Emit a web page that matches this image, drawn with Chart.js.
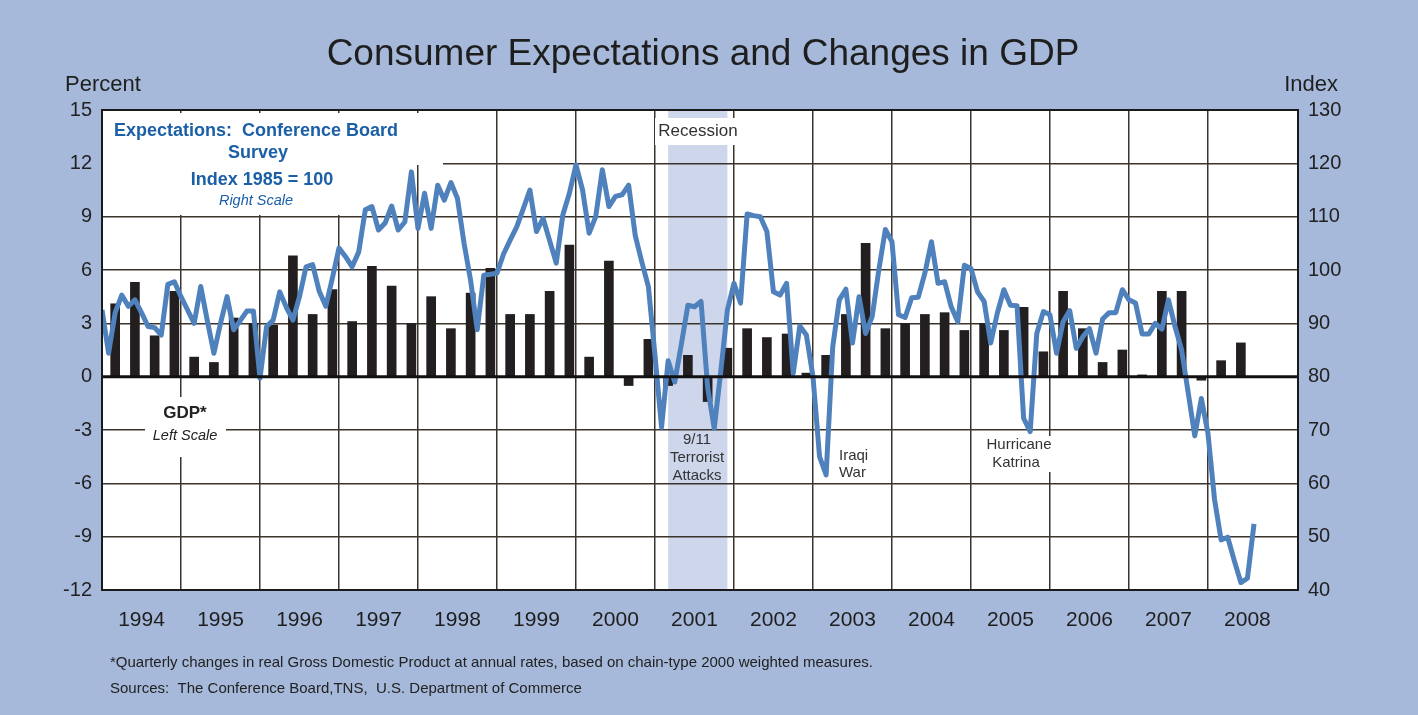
<!DOCTYPE html>
<html>
<head>
<meta charset="utf-8">
<script src="https://cdn.jsdelivr.net/npm/chart.js@4.4.1/dist/chart.umd.min.js"></script>
<style>
  html, body { margin: 0; padding: 0; background: #a6b9da; }
  #wrap { width: 1418px; height: 715px; position: relative; }
  canvas { display: block; }
</style>
</head>
<body>
<div id="wrap"><canvas id="c" width="1418" height="715"></canvas></div>
<script>
// ---------------- DATA ----------------
const startYear = 1994;
const yearLabels = ['1994','1995','1996','1997','1998','1999','2000','2001','2002','2003','2004','2005','2006','2007','2008'];

// Real GDP, quarterly % change at annual rates (1994Q1 .. 2008Q2)
const gdpQuarterly = [
  4.1, 5.3, 2.3, 4.8,   // 1994
  1.1, 0.8, 3.3, 3.0,   // 1995
  2.9, 6.8, 3.5, 4.9,   // 1996
  3.1, 6.2, 5.1, 3.0,   // 1997
  4.5, 2.7, 4.7, 6.1,   // 1998
  3.5, 3.5, 4.8, 7.4,   // 1999
  1.1, 6.5, -0.5, 2.1,  // 2000
  -0.5, 1.2, -1.4, 1.6, // 2001
  2.7, 2.2, 2.4, 0.2,   // 2002
  1.2, 3.5, 7.5, 2.7,   // 2003
  3.0, 3.5, 3.6, 2.6,   // 2004
  3.0, 2.6, 3.9, 1.4,   // 2005
  4.8, 2.7, 0.8, 1.5,   // 2006
  0.1, 4.8, 4.8, -0.2,  // 2007
  0.9, 1.9              // 2008
];

// Conference Board Expectations Index, monthly (Jan 1994 .. Aug 2008), 1985 = 100
const expectationsIndex = [
  92.5, 84.4, 92.0, 95.3, 93.2, 94.4, 92.0, 89.4, 89.2, 87.8, 97.3, 97.8,      // 1994
  95.0, 92.5, 90.0, 96.9, 90.5, 84.4, 90.0, 95.0, 88.8, 90.5, 92.3, 92.3,      // 1995
  79.7, 89.4, 90.6, 95.9, 93.0, 90.6, 95.0, 100.6, 101.0, 96.0, 93.2, 98.5,    // 1996
  104.1, 102.5, 100.6, 103.4, 111.3, 111.9, 107.5, 108.8, 112.0, 107.5, 109.0, 118.4, // 1997
  107.8, 114.4, 107.8, 115.9, 113.1, 116.4, 113.4, 105.0, 98.0, 88.8, 99.0, 99.2,     // 1998
  99.4, 103.0, 105.6, 108.1, 111.5, 115.0, 107.2, 109.7, 105.5, 101.3, 110.3, 114.4,  // 1999
  119.7, 115.0, 106.9, 110.0, 118.8, 111.9, 113.8, 114.1, 115.9, 106.5, 101.5, 96.9,  // 2000
  84.0, 70.5, 83.0, 79.0, 86.0, 93.4, 93.1, 94.1, 78.0, 70.3, 81.0, 92.5,      // 2001
  97.5, 93.8, 110.5, 110.2, 110.0, 107.2, 95.9, 95.3, 97.5, 80.6, 89.5, 87.8,  // 2002
  80.0, 65.0, 61.6, 85.6, 94.4, 96.4, 86.3, 95.0, 88.1, 91.3, 100.0, 107.6,    // 2003
  105.3, 91.6, 91.1, 94.8, 94.9, 99.4, 105.3, 97.5, 97.8, 93.1, 90.3, 100.9,   // 2004
  100.3, 95.9, 94.1, 86.3, 91.9, 96.3, 93.4, 93.3, 72.2, 69.7, 88.1, 92.2,     // 2005
  91.6, 84.4, 90.3, 92.4, 85.3, 87.5, 89.0, 84.4, 90.8, 92.0, 92.0, 96.3,      // 2006
  94.4, 93.8, 88.0, 88.0, 90.0, 88.9, 94.4, 89.4, 85.0, 77.0, 68.9, 75.9,      // 2007
  69.4, 57.0, 49.4, 49.9, 45.5, 41.4, 42.2, 52.4                               // 2008
];

// Recession (NBER): March 2001 through November 2001
const recessionStart = [2001, 3];
const recessionEnd = [2001, 11];

// ---------------- BUILD ----------------
const gdpPoints = gdpQuarterly.map((v, i) => ({ x: startYear + (i * 3 + 2) / 12, y: v }));
const expPoints = expectationsIndex.map((v, i) => ({ x: startYear + i / 12, y: v }));
const recX0 = recessionStart[0] + (recessionStart[1] - 1) / 12;
const recX1 = recessionEnd[0] + recessionEnd[1] / 12;

const FONT = '"Liberation Sans", Arial, sans-serif';
const BLUE_TXT = '#1b5fa6';
const LINE_BLUE = '#4f81bd';
const GRID = '#3a342c';

const decor = {
  id: 'decor',
  beforeDraw(chart) {
    const { ctx, chartArea: a } = chart;
    ctx.save();
    ctx.fillStyle = '#a6b9da';
    ctx.fillRect(0, 0, chart.width, chart.height);
    ctx.fillStyle = '#ffffff';
    ctx.fillRect(a.left, a.top, a.right - a.left, a.bottom - a.top);
    const xs = chart.scales.x;
    const rx0 = xs.getPixelForValue(recX0), rx1 = xs.getPixelForValue(recX1);
    ctx.fillStyle = '#cdd6ea';
    ctx.fillRect(rx0, a.top, rx1 - rx0, a.bottom - a.top);
    ctx.restore();
  },
  beforeDatasetsDraw(chart) {
    const { ctx, chartArea: a } = chart;
    ctx.save();
    ctx.fillStyle = '#ffffff';
    // legend box for the expectations text
    ctx.fillRect(a.left + 1, a.top + 3, 340, 52);
    ctx.fillRect(a.left + 1, a.top + 55, 298, 50);
    // GDP label box
    ctx.fillRect(145, 397, 81, 60);
    // Recession label box
    ctx.fillRect(655, 118, 83, 27);
    // event label box
    ctx.fillRect(985, 436, 68, 36);
    ctx.restore();
  },
  afterDatasetsDraw(chart) {
    const { ctx, chartArea: a } = chart;
    ctx.save();
    // zero line
    const yl = chart.scales.yL;
    const y0 = yl.getPixelForValue(0);
    ctx.strokeStyle = '#111';
    ctx.lineWidth = 3;
    ctx.beginPath(); ctx.moveTo(a.left, y0); ctx.lineTo(a.right, y0); ctx.stroke();
    // frame
    ctx.lineWidth = 2;
    ctx.strokeStyle = '#1a1a1a';
    ctx.strokeRect(a.left, a.top, a.right - a.left, a.bottom - a.top);

    ctx.textBaseline = 'middle';
    ctx.textAlign = 'center';
    // Expectations legend
    ctx.fillStyle = BLUE_TXT;
    ctx.font = 'bold 18px ' + FONT;
    ctx.fillText('Expectations:  Conference Board', 256, 131);
    ctx.fillText('Survey', 258, 153);
    ctx.fillText('Index 1985 = 100', 262, 180);
    ctx.font = 'italic 14.5px ' + FONT;
    ctx.fillText('Right Scale', 256, 201);
    // GDP legend
    ctx.fillStyle = '#222';
    ctx.font = 'bold 17px ' + FONT;
    ctx.fillText('GDP*', 185, 413);
    ctx.font = 'italic 14.5px ' + FONT;
    ctx.fillText('Left Scale', 185, 436);
    // Recession
    ctx.fillStyle = '#333';
    ctx.font = '17px ' + FONT;
    ctx.fillText('Recession', 698, 131);
    // Events
    ctx.font = '15px ' + FONT;
    ctx.fillText('9/11', 697, 440);
    ctx.fillText('Terrorist', 697, 458);
    ctx.fillText('Attacks', 697, 476);
    ctx.textAlign = 'left';
    ctx.fillText('Iraqi', 839, 456);
    ctx.fillText('War', 839, 473);
    ctx.textAlign = 'center';
    ctx.fillText('Hurricane', 1019, 445);
    ctx.fillText('Katrina', 1016, 463);
    ctx.restore();
  },
  afterDraw(chart) {
    const { ctx } = chart;
    ctx.save();
    ctx.fillStyle = '#1e1e1e';
    ctx.textBaseline = 'middle';
    ctx.textAlign = 'center';
    ctx.font = '37px ' + FONT;
    ctx.fillText('Consumer Expectations and Changes in GDP', 703, 55);
    ctx.font = '22px ' + FONT;
    ctx.textAlign = 'left';
    ctx.fillText('Percent', 65, 85);
    ctx.textAlign = 'right';
    ctx.fillText('Index', 1338, 85);
    // year labels centered within each year
    const xs = chart.scales.x;
    ctx.textAlign = 'center';
    ctx.font = '21px ' + FONT;
    yearLabels.forEach((lab, i) => {
      const x = xs.getPixelForValue(startYear + i + 0.5);
      ctx.fillText(lab, x, 620);
    });
    ctx.textAlign = 'left';
    ctx.font = '15px ' + FONT;
    ctx.fillStyle = '#222';
    ctx.fillText('*Quarterly changes in real Gross Domestic Product at annual rates, based on chain-type 2000 weighted measures.', 110, 663);
    ctx.fillText('Sources:  The Conference Board,TNS,  U.S. Department of Commerce', 110, 689);
    ctx.restore();
  }
};

new Chart(document.getElementById('c'), {
  type: 'bar',
  data: {
    datasets: [
      {
        type: 'line',
        label: 'Expectations Index',
        data: expPoints,
        yAxisID: 'yR',
        borderColor: LINE_BLUE,
        borderWidth: 5,
        pointRadius: 0,
        tension: 0,
        borderJoinStyle: 'round',
        borderCapStyle: 'butt',
        order: 0
      },
      {
        type: 'bar',
        label: 'GDP',
        data: gdpPoints,
        yAxisID: 'yL',
        backgroundColor: '#231f20',
        barThickness: 9,
        order: 1
      }
    ]
  },
  options: {
    responsive: false,
    animation: false,
    devicePixelRatio: 1,
    layout: { padding: { top: 110, left: 0, right: 0, bottom: 0 } },
    plugins: { legend: { display: false }, tooltip: { enabled: false } },
    scales: {
      x: {
        type: 'linear',
        offset: false,
        min: startYear,
        max: 2009.14,
        afterFit(s) { s.height = 125; },
        afterBuildTicks(s) {
          s.ticks = yearLabels.map((l, i) => ({ value: startYear + i }));
        },
        ticks: { display: false },
        grid: { color: GRID, lineWidth: 1.5, drawTicks: false, offset: false },
        border: { display: false }
      },
      yL: {
        position: 'left',
        min: -12, max: 15,
        afterFit(s) { s.width = 102; },
        ticks: { stepSize: 3, color: '#222', font: { family: FONT, size: 20 }, padding: 10 },
        grid: { color: GRID, lineWidth: 1.5, drawTicks: false },
        border: { display: false }
      },
      yR: {
        position: 'right',
        min: 40, max: 130,
        afterFit(s) { s.width = 120; },
        ticks: { stepSize: 10, color: '#222', font: { family: FONT, size: 20 }, padding: 10 },
        grid: { display: false, drawTicks: false },
        border: { display: false }
      }
    }
  },
  plugins: [decor]
});
</script>
</body>
</html>
